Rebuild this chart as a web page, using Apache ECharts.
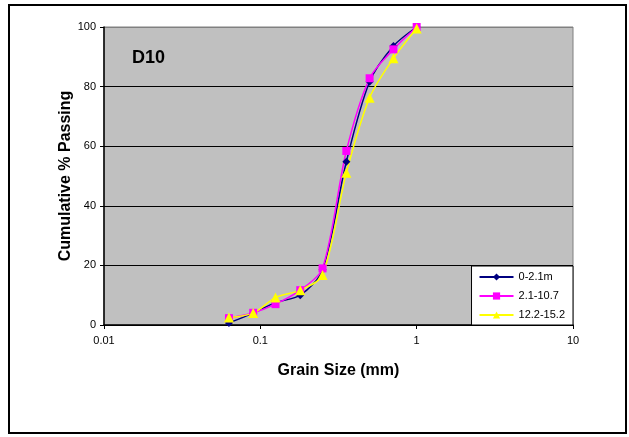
<!DOCTYPE html>
<html><head><meta charset="utf-8">
<script src="https://cdn.jsdelivr.net/npm/echarts@6/dist/echarts.min.js"></script>
<style>html,body{margin:0;padding:0;background:#fff}#c{width:629px;height:437px}</style>
</head><body><div id="c"></div>
<script>
const grainSizes = [0.063, 0.09, 0.125, 0.18, 0.25, 0.355, 0.5, 0.71, 1.0];
const s1Name = '0-2.1m';
const s1 = [0.7, 4.0, 7.5, 10.0, 18.5, 54.8, 81.6, 93.6, 100];
const s2Name = '2.1-10.7';
const s2 = [2.3, 4.1, 7.0, 11.7, 19.0, 58.4, 82.8, 92.5, 100];
const s3Name = '12.2-15.2';
const s3 = [2.5, 4.0, 9.2, 11.7, 16.8, 51.1, 76.3, 89.5, 99.5];
const xTicks = [0.01, 0.1, 1, 10];
const yTicks = [0, 20, 40, 60, 80, 100];

const pair = arr => grainSizes.map((x, i) => [x, arr[i]]);
const font = 'Liberation Sans, Arial, sans-serif';
const chart = echarts.init(document.getElementById('c'));
chart.setOption({
  animation: false,
  backgroundColor: '#fff',
  graphic: [
    {type: 'rect', shape: {x: 9, y: 5, width: 617, height: 428}, style: {fill: 'none', stroke: '#000', lineWidth: 2}, z: 100},
    {type: 'text', left: 132, top: 49, style: {text: 'D10', font: 'bold 18px ' + font, fill: '#000'}, z: 100}
  ],
  grid: {left: 104, right: 56, top: 27, bottom: 112, show: true, backgroundColor: '#C0C0C0', borderColor: '#808080', borderWidth: 1},
  legend: {
    orient: 'vertical', right: 56, bottom: 112, width: 98,
    backgroundColor: '#fff', borderColor: '#000', borderWidth: 1,
    padding: [4, 8, 3, 7], itemGap: 5, itemWidth: 34, itemHeight: 9,
    textStyle: {fontFamily: font, fontSize: 11, color: '#000', lineHeight: 14},
    data: [s1Name, s2Name, s3Name]
  },
  xAxis: {
    type: 'log', logBase: 10, min: xTicks[0], max: xTicks[xTicks.length - 1],
    name: 'Grain Size (mm)', nameLocation: 'middle', nameGap: 38, nameMoveOverlap: false,
    nameTextStyle: {fontFamily: font, fontSize: 16, fontWeight: 'bold', color: '#000'},
    axisLine: {lineStyle: {color: '#000', width: 1.5}},
    axisTick: {show: true, length: 4, lineStyle: {color: '#000'}},
    minorTick: {show: false},
    axisLabel: {fontFamily: font, fontSize: 11, color: '#000', margin: 10,
      formatter: v => String(+v.toPrecision(3))},
    splitLine: {show: false}
  },
  yAxis: {
    type: 'value', min: yTicks[0], max: yTicks[yTicks.length - 1], interval: 20,
    name: 'Cumulative % Passing', nameLocation: 'middle', nameGap: 30, nameMoveOverlap: false,
    nameTextStyle: {fontFamily: font, fontSize: 16, fontWeight: 'bold', color: '#000'},
    axisLine: {show: true, lineStyle: {color: '#000', width: 1.5}},
    axisTick: {show: true, length: 4, lineStyle: {color: '#000'}},
    axisLabel: {fontFamily: font, fontSize: 11, color: '#000', margin: 8},
    splitLine: {show: true, lineStyle: {color: ['#000', '#000', '#000', '#000', '#000', '#808080'], width: 1}}
  },
  series: [
    {name: s1Name, type: 'line', data: pair(s1), smooth: 0.3, symbol: 'diamond', symbolSize: 8,
      lineStyle: {color: '#000080', width: 1.5}, itemStyle: {color: '#000080'}},
    {name: s2Name, type: 'line', data: pair(s2), smooth: 0.3, symbol: 'rect', symbolSize: 8,
      lineStyle: {color: '#FF00FF', width: 1.5}, itemStyle: {color: '#FF00FF'}},
    {name: s3Name, type: 'line', data: pair(s3), smooth: 0.3, symbol: 'triangle', symbolSize: 10,
      lineStyle: {color: '#FFFF00', width: 1.5}, itemStyle: {color: '#FFFF00'}}
  ]
});
</script></body></html>
